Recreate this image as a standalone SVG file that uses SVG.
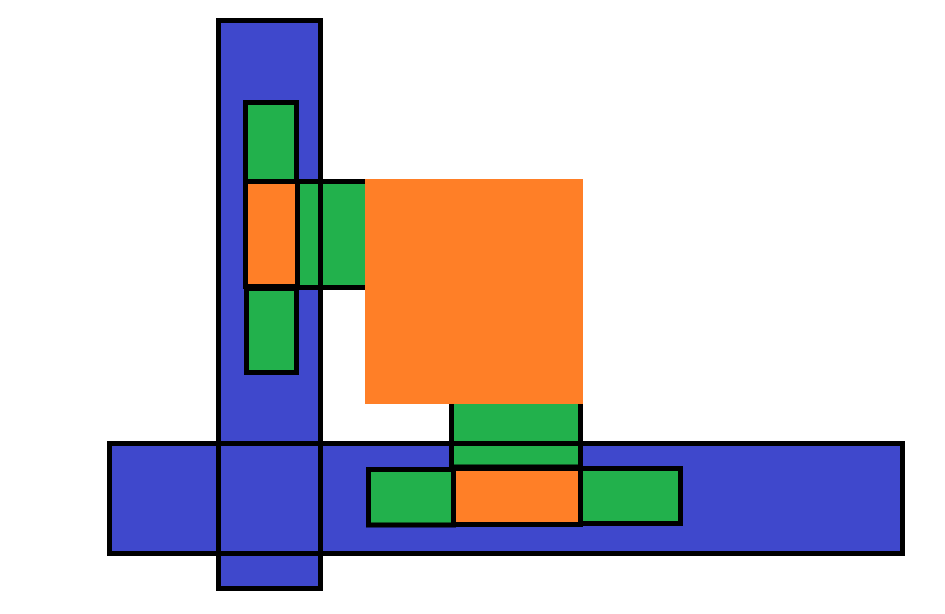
<svg xmlns="http://www.w3.org/2000/svg" width="945" height="614" viewBox="0 0 945 614">
<style>
.b{fill:#3f48cc}
.g{fill:#22b14c}
.o{fill:#ff7f27}
.s{fill:none;stroke:#000;stroke-width:5}
</style>
<rect width="945" height="614" fill="#fff"/>
<defs>
<rect id="r-bv" x="218.5" y="20.5" width="102" height="568"/>
<rect id="r-bh" x="109.5" y="443.5" width="793" height="110"/>
<rect id="r-g1" x="245.5" y="102.5" width="51" height="79"/>
<rect id="r-o1" x="245.5" y="181.5" width="52" height="105"/>
<rect id="r-g2" x="246.5" y="288.5" width="50" height="84"/>
<rect id="r-g3" x="297.5" y="181.5" width="80" height="106"/>
<rect id="r-g4" x="451.5" y="380" width="129" height="87"/>
<rect id="r-g5" x="368.5" y="469.5" width="85" height="55.5"/>
<rect id="r-o2" x="453.5" y="468.5" width="127" height="56"/>
<rect id="r-g6" x="580.5" y="468.5" width="100" height="55"/>
</defs>
<g id="fills">
<g id="blue-vertical"><use href="#r-bv" class="b"/></g>
<g id="blue-horizontal"><use href="#r-bh" class="b"/></g>
<g id="green-top"><use href="#r-g1" class="g"/></g>
<g id="green-bottom-left-col"><use href="#r-g2" class="g"/></g>
<g id="green-side"><use href="#r-g3" class="g"/></g>
<g id="orange-left"><use href="#r-o1" class="o"/></g>
<g id="green-stem"><use href="#r-g4" class="g"/></g>
<g id="green-bottom-left"><use href="#r-g5" class="g"/></g>
<g id="green-bottom-right"><use href="#r-g6" class="g"/></g>
<g id="orange-bottom"><use href="#r-o2" class="o"/></g>
</g>
<g id="outlines">
<use href="#r-bv" class="s"/>
<use href="#r-bh" class="s"/>
<use href="#r-g1" class="s"/>
<use href="#r-g2" class="s"/>
<use href="#r-g3" class="s"/>
<use href="#r-o1" class="s"/>
<use href="#r-g4" class="s"/>
<use href="#r-g5" class="s"/>
<use href="#r-g6" class="s"/>
<use href="#r-o2" class="s"/>
</g>
<g id="orange-square"><rect x="365" y="179" width="218" height="225" class="o"/></g>
</svg>
